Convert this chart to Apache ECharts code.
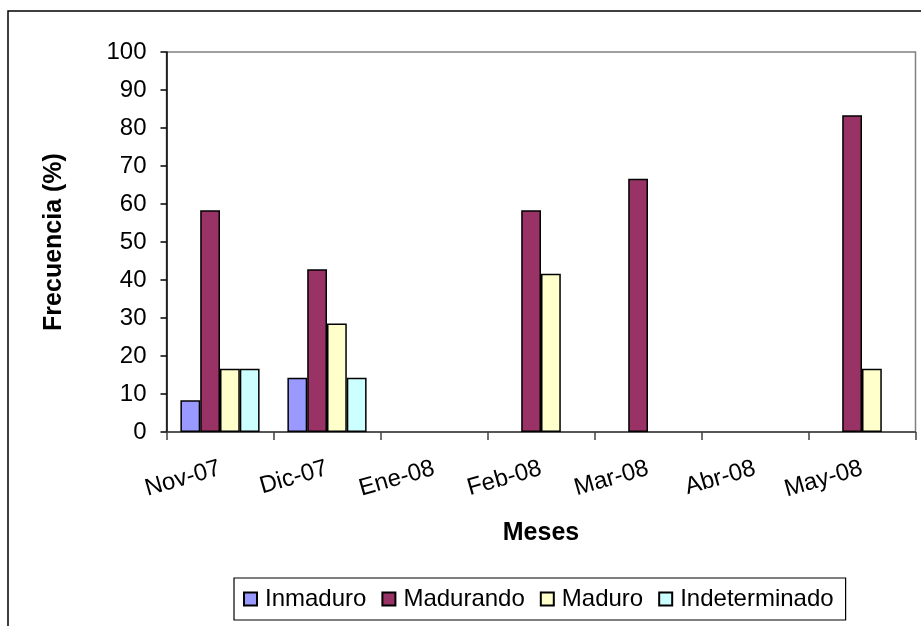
<!DOCTYPE html>
<html>
<head>
<meta charset="utf-8">
<script src="https://cdn.jsdelivr.net/npm/echarts@6/dist/echarts.min.js"></script>
<style>
  html, body { margin: 0; padding: 0; background: #fff; }
  #chart { width: 921px; height: 626px; }
</style>
</head>
<body>
<div id="chart"></div>
<script>
// Monthly maturity-stage frequencies (%)
const months = ['Nov-07', 'Dic-07', 'Ene-08', 'Feb-08', 'Mar-08', 'Abr-08', 'May-08'];
const inmaduro      = [8.33, 14.29, null, null, null, null, null];
const madurando     = [58.33, 42.86, null, 58.33, 66.67, null, 83.33];
const maduro        = [16.67, 28.57, null, 41.67, null, null, 16.67];
const indeterminado = [16.67, 14.29, null, null, null, null, null];
const yTicks = { min: 0, max: 100, step: 10 };

const FONT = '"Liberation Sans", Arial, sans-serif';

function barSeries(name, data, color) {
  return {
    name: name,
    type: 'bar',
    data: data,
    barGap: '0%',
    barCategoryGap: '26%',
    itemStyle: { color: color, borderColor: '#000', borderWidth: 1.5 }
  };
}

const chart = echarts.init(document.getElementById('chart'), null, { renderer: 'canvas' });
chart.setOption({
  backgroundColor: '#fff',
  animation: false,
  textStyle: { fontFamily: FONT, color: '#000' },
  graphic: [{
    type: 'rect',
    shape: { x: 8, y: 11, width: 1000, height: 1000 },
    style: { fill: 'none', stroke: '#000', lineWidth: 1.5 },
    z: -1
  }],
  grid: {
    left: 166.5, top: 52, right: 5.5, bottom: 194,
    show: true, borderColor: '#808080', borderWidth: 1.5, backgroundColor: 'transparent'
  },
  legend: {
    left: 234, top: 578,
    padding: [9, 12, 9, 9],
    itemGap: 15,
    itemWidth: 13, itemHeight: 13,
    icon: 'rect',
    borderColor: '#000', borderWidth: 1.2,
    textStyle: { fontFamily: FONT, fontSize: 24, color: '#000', padding: [0, 0, 0, 3] },
    data: ['Inmaduro', 'Madurando', 'Maduro', 'Indeterminado']
  },
  xAxis: {
    type: 'category',
    data: months,
    name: 'Meses',
    nameLocation: 'middle',
    nameGap: 89,
    nameTextStyle: { fontFamily: FONT, fontSize: 25, fontWeight: 'bold', color: '#000' },
    axisLine: { lineStyle: { color: '#404040', width: 1.5 } },
    axisTick: { show: true, interval: 0, length: 8, lineStyle: { color: '#404040', width: 1.5 } },
    axisLabel: { interval: 0, hideOverlap: false, rotate: 16, margin: 36, fontFamily: FONT, fontSize: 24, color: '#000' },
    splitLine: { show: false }
  },
  yAxis: {
    type: 'value',
    min: yTicks.min, max: yTicks.max, interval: yTicks.step,
    name: 'Frecuencia (%)',
    nameLocation: 'middle',
    nameGap: 100,
    nameTextStyle: { fontFamily: FONT, fontSize: 25, fontWeight: 'bold', color: '#000' },
    axisLine: { show: true, lineStyle: { color: '#000', width: 1.5 } },
    axisTick: { show: true, length: 6, lineStyle: { color: '#000', width: 1.5 } },
    axisLabel: { margin: 20, fontFamily: FONT, fontSize: 24, color: '#000' },
    splitLine: { show: false }
  },
  series: [
    barSeries('Inmaduro', inmaduro, '#9999FF'),
    barSeries('Madurando', madurando, '#993366'),
    barSeries('Maduro', maduro, '#FFFFCC'),
    barSeries('Indeterminado', indeterminado, '#CCFFFF')
  ]
});
</script>
</body>
</html>
